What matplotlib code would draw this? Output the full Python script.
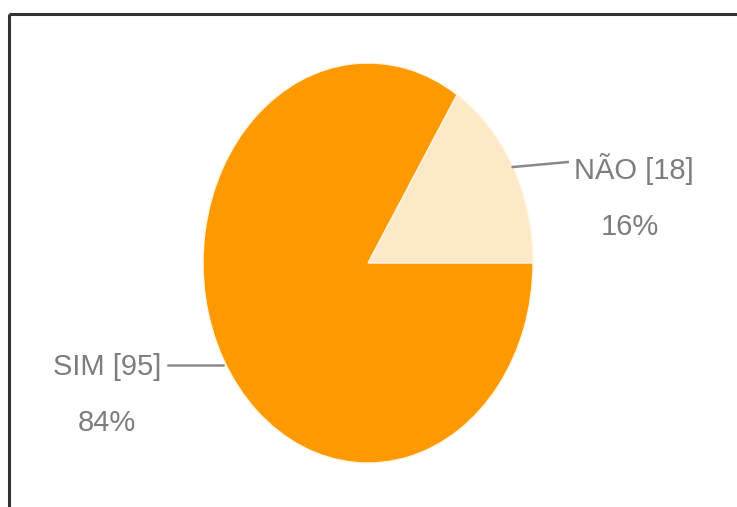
import numpy as np
import matplotlib.pyplot as plt
from matplotlib import font_manager

# respostas da pergunta (sim / não)
labels = ["NÃO", "SIM"]
counts = [18, 95]
colors = ["#fde8c8", "#ff9900"]

W, H = 737, 507
fig = plt.figure(figsize=(W / 100, H / 100), dpi=100)

names = {f.name for f in font_manager.fontManager.ttflist}
family = "Liberation Sans Narrow" if "Liberation Sans Narrow" in names else "Liberation Sans"

# moldura: só topo e lado esquerdo
frame = fig.add_axes([0, 0, 1, 1])
frame.set_xlim(0, W)
frame.set_ylim(H, 0)
frame.axis("off")
frame.plot([9.5, W], [13.5, 13.5], color="#333333", lw=2.2, solid_capstyle="butt")
frame.plot([9.5, 9.5], [13.5, H], color="#333333", lw=2.2, solid_capstyle="butt")

# eixo da pizza esticado na vertical (elipse 330x400 px)
ax = fig.add_axes([203 / W, (H - 463) / H, 330 / W, 400 / H])
wedges, _ = ax.pie(counts, colors=colors, startangle=0, counterclock=True,
                   wedgeprops=dict(edgecolor="#fff6e0", linewidth=1.0))
ax.set_aspect("auto")
ax.set_xlim(-1, 1)
ax.set_ylim(-1, 1)

total = sum(counts)
txt = dict(color="#7d7d7d", family=family, fontsize=21)
for w, lab, n in zip(wedges, labels, counts):
    mid = np.deg2rad((w.theta1 + w.theta2) / 2)
    x0, y0 = np.cos(mid), np.sin(mid)
    side = 1 if x0 > 0 else -1
    x1 = side * 1.21
    pct = "%d%%" % round(100 * n / total)
    if side > 0:
        ax.plot([x0, x1], [y0, y0 + 0.025], color="#8a8a8a", lw=1.8, clip_on=False)
        ax.text(x1 + 0.04, y0 - 0.01, "%s [%d]" % (lab, n), ha="left", va="center",
                clip_on=False, **txt)
        ax.text(x1 + 0.38, y0 - 0.30, pct, ha="center", va="center",
                clip_on=False, **txt)
    else:
        y0 -= 0.03
        ax.plot([x0, x1], [y0, y0], color="#8a8a8a", lw=1.8, clip_on=False)
        ax.text(x1 - 0.04, y0 - 0.01, "%s [%d]" % (lab, n), ha="right", va="center",
                clip_on=False, **txt)
        ax.text(x1 - 0.37, y0 - 0.29, pct, ha="center", va="center",
                clip_on=False, **txt)

fig.savefig("out.png", dpi=100)
